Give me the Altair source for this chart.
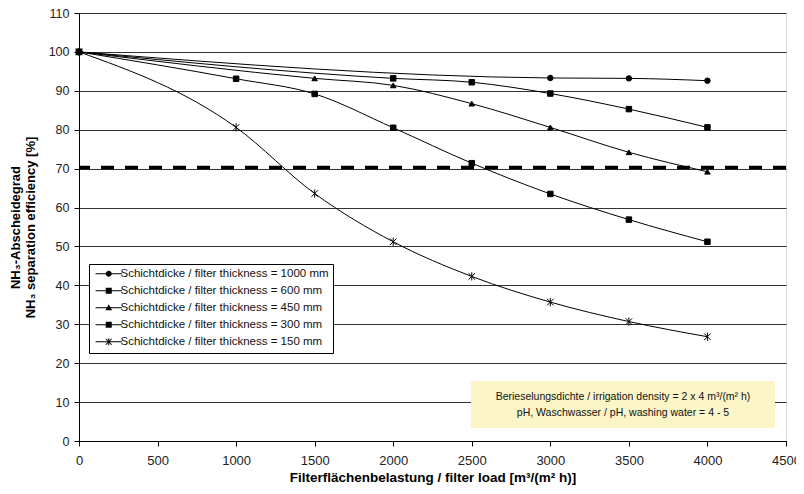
import altair as alt
import pandas as pd

# ---- data ----
series_names = [
    "Schichtdicke / filter thickness = 1000 mm",
    "Schichtdicke / filter thickness = 600 mm",
    "Schichtdicke / filter thickness = 450 mm",
    "Schichtdicke / filter thickness = 300 mm",
    "Schichtdicke / filter thickness = 150 mm",
]
x_1000 = [0, 3000, 3500, 4000]
y_1000 = [100, 93.3, 93.2, 92.6]
x_600 = [0, 2000, 2500, 3000, 3500, 4000]
y_600 = [100, 93.2, 92.2, 89.3, 85.3, 80.6]
x_450 = [0, 1500, 2000, 2500, 3000, 3500, 4000]
y_450 = [100, 93.2, 91.4, 86.7, 80.6, 74.2, 69.2]
x_300 = [0, 1000, 1500, 2000, 2500, 3000, 3500, 4000]
y_300 = [100, 93.1, 89.2, 80.5, 71.4, 63.5, 56.9, 51.2]
x_150 = [0, 1000, 1500, 2000, 2500, 3000, 3500, 4000]
y_150 = [100, 80.6, 63.6, 51.2, 42.3, 35.7, 30.7, 26.8]
threshold = [70.3]
x_ticks = list(range(0, 4501, 500))
y_ticks = list(range(0, 111, 10))
note_lines = [
    "Berieselungsdichte / irrigation density = 2 x 4 m³/(m² h)",
    "pH, Waschwasser / pH, washing water =  4 - 5",
]

rows = []
for name, xs, ys in zip(series_names,
                        [x_1000, x_600, x_450, x_300, x_150],
                        [y_1000, y_600, y_450, y_300, y_150]):
    for i, (xv, yv) in enumerate(zip(xs, ys)):
        rows.append({"series": name, "load": xv, "eff": yv, "order": i})
df = pd.DataFrame(rows)

FONT = "Liberation Sans"

star = "M-1.2,-1.2L1.2,1.2M-1.2,1.2L1.2,-1.2M0,-1.5L0,1.5"
point_shapes = ["circle", "square", "triangle-up", "square", star]

# legend symbols (filled outlines only): a thin bar through the marker (unit = 3 px)
bar = "M-4.4,-0.17L4.4,-0.17L4.4,0.17L-4.4,0.17Z"
leg_circle = bar + "M-1,0A1,1 0 1,1 1,0A1,1 0 1,1 -1,0Z"
leg_square = bar + "M-1,-1L1,-1L1,1L-1,1Z"
leg_tri = bar + "M0,-1.2L1.1,0.8L-1.1,0.8Z"
leg_star = (bar
            + "M-0.17,-1.2L0.17,-1.2L0.17,1.2L-0.17,1.2Z"
            + "M-0.88,-1.12L1.12,0.88L0.88,1.12L-1.12,-0.88Z"
            + "M0.88,-1.12L1.12,-0.88L-0.88,1.12L-1.12,0.88Z")
legend_shapes = [leg_circle, leg_square, leg_tri, leg_square, leg_star]

W, H = 707, 428

xscale = alt.Scale(domain=[0, 4500], nice=False)
yscale = alt.Scale(domain=[0, 110], nice=False)

xaxis = alt.Axis(values=x_ticks, grid=False, format="d",
                 title="Filterflächenbelastung / filter load [m³/(m² h)]",
                 tickSize=5, tickColor="black", domainColor="black", labelPadding=8,
                 labelFontSize=13, labelColor="#222", labelFont=FONT, labelOverlap=False,
                 titleFont=FONT, titleFontSize=13.5, titleFontWeight="bold", titleColor="black",
                 titlePadding=3, labelFlush=False)
yaxis = alt.Axis(values=y_ticks, grid=True, gridColor="#333", gridWidth=1, format="d",
                 title=["NH₃-Abscheidegrad", "NH₃ separation efficiency [%]"],
                 tickSize=5, tickColor="black", domainColor="black", labelPadding=5,
                 labelFontSize=12.5, labelColor="#222", labelFont=FONT, labelOverlap=False,
                 titleFont=FONT, titleFontSize=13, titleFontWeight="bold", titleColor="black",
                 titleX=-57, titleY=H / 2, titleAngle=-90, titleAlign="center",
                 titleBaseline="bottom", titleLineHeight=15)

X = alt.X("load:Q", scale=xscale, axis=xaxis)
Y = alt.Y("eff:Q", scale=yscale, axis=yaxis)

base = alt.Chart(df)

lines = base.mark_line(interpolate="monotone", stroke="black", strokeWidth=1).encode(
    x=X, y=Y, detail="series:N", order="order:Q",
)

points = base.mark_point(fill="black", stroke="black", strokeWidth=1, opacity=1, fillOpacity=1, size=30).encode(
    x=X, y=Y,
    shape=alt.Shape("series:N", scale=alt.Scale(domain=series_names, range=point_shapes), legend=None),
)

legend_layer = base.transform_filter("datum.load < -1").mark_point(
    filled=True, fill="black", opacity=1, fillOpacity=1, size=36
).encode(
    x=X, y=Y,
    shape=alt.Shape("series:N", scale=alt.Scale(domain=series_names, range=legend_shapes),
                    legend=alt.Legend(title=None, orient="none", legendX=10, legendY=251,
                                      fillColor="white", strokeColor="black", padding=4,
                                      symbolSize=36, symbolOffset=10, labelOffset=6,
                                      symbolFillColor="black", symbolOpacity=1,
                                      labelFont=FONT, labelFontSize=11.5, labelColor="#111",
                                      rowPadding=4, labelLimit=400)),
)

rule = alt.Chart(pd.DataFrame({"y": threshold})).mark_rule(
    stroke="black", strokeWidth=3.5, strokeDash=[13, 11]
).encode(y=alt.Y("y:Q", scale=yscale, axis=yaxis))

note_box = alt.Chart(pd.DataFrame({"a": [0]})).mark_rect(fill="#FBF5C8").encode(
    x=alt.value(392), x2=alt.value(696), y=alt.value(368), y2=alt.value(415)
)
note_text = alt.Chart(pd.DataFrame({"a": [0]})).mark_text(
    text=note_lines, font=FONT, fontSize=10.5, color="#111", align="center",
    baseline="middle", lineHeight=16
).encode(x=alt.value(544), y=alt.value(384))

chart = alt.layer(rule, lines, points, legend_layer, note_box, note_text).resolve_scale(
    shape="independent"
).properties(
    width=W, height=H,
    autosize=alt.AutoSizeParams(type="none"),
    padding={"left": 71, "top": 5, "right": 10, "bottom": 50},
).configure_view(stroke=None).configure(background="white")

chart.save("out.html", embed_options={"renderer": "svg", "actions": False})
